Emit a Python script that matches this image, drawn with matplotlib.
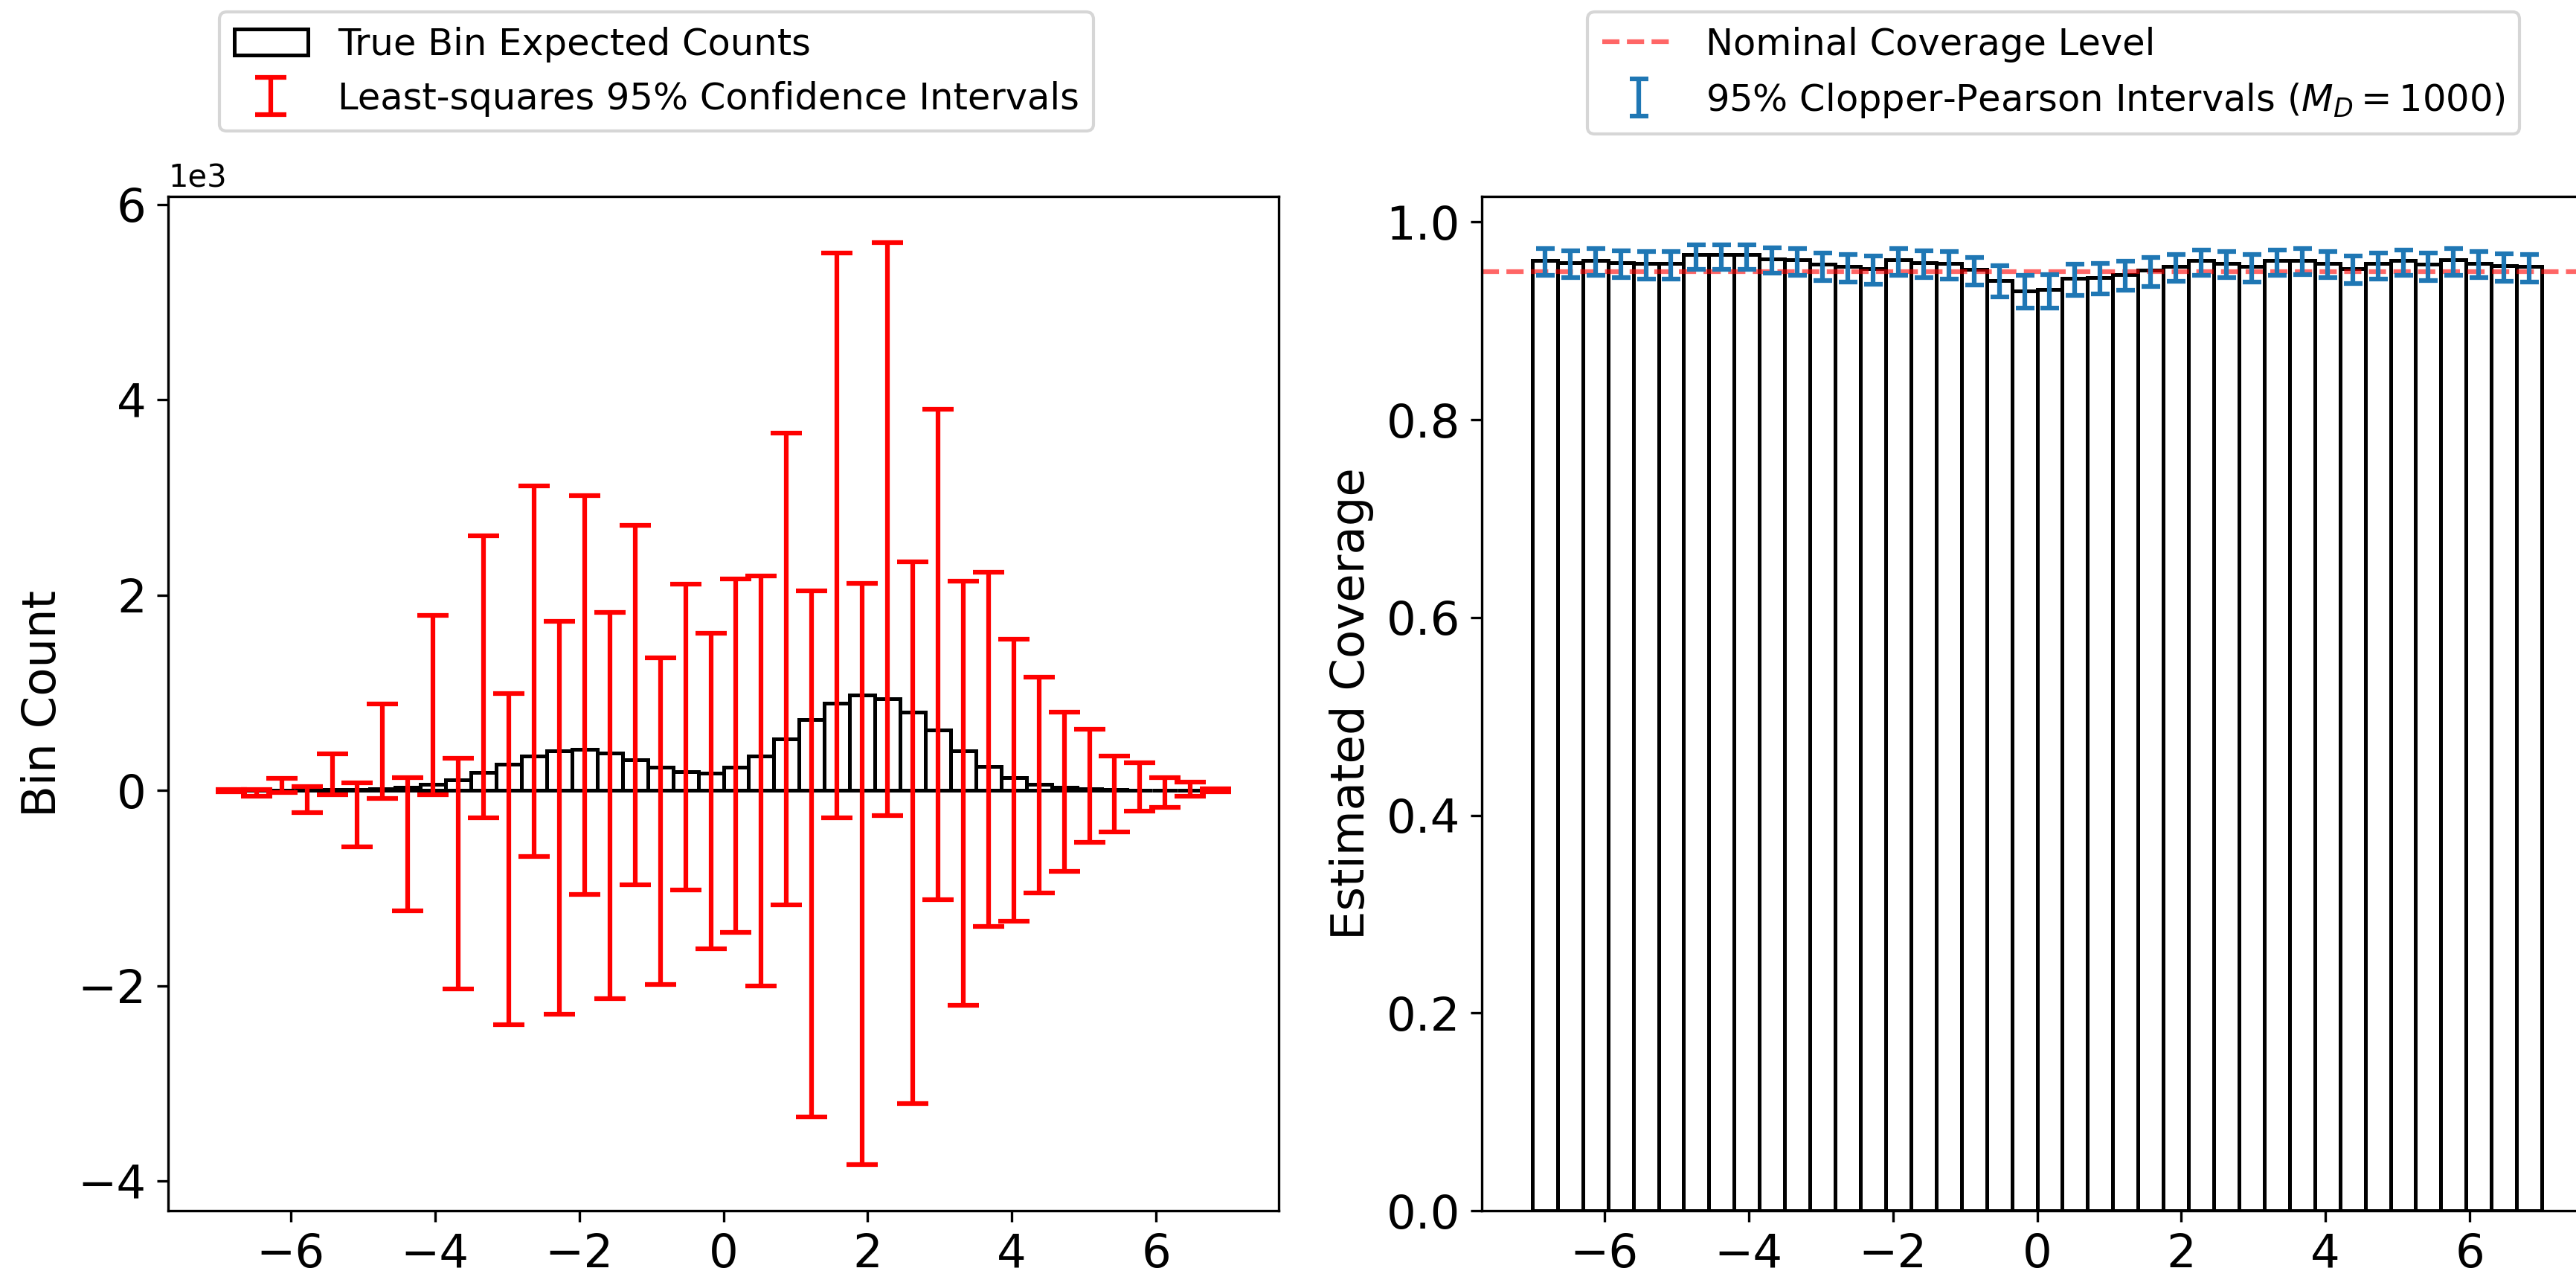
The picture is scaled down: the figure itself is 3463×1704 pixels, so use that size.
import numpy as np
import matplotlib
matplotlib.use("Agg")
import matplotlib.pyplot as plt
from matplotlib.ticker import MultipleLocator

# ---------------- data ----------------
bin_edges = np.linspace(-7, 7, 41)
bin_centers = 0.5 * (bin_edges[:-1] + bin_edges[1:])

true_counts = [1, 1, 2, 3, 5, 8, 15, 30, 63, 107,
               182, 264, 349, 406, 421, 382, 313, 240, 188, 178,
               236, 355, 528, 728, 893, 976, 941, 803, 615, 406,
               245, 130, 65, 28, 13, 6, 3, 1, 1, 0]

ci_low = [-12, -58, -20, -226, -47, -580, -82, -1231, -47, -2037,
          -284, -2399, -674, -2294, -1067, -2130, -970, -1990, -1017, -1620,
          -1453, -2006, -1172, -3346, -284, -3833, -261, -3209, -1122, -2205,
          -1394, -1344, -1048, -830, -530, -428, -214, -171, -62, -16]
ci_high = [12, 9, 126, 35, 374, 78, 887, 130, 1790, 328,
           2610, 991, 3114, 1728, 3022, 1825, 2711, 1360, 2114, 1605,
           2167, 2193, 3662, 2044, 5504, 2118, 5610, 2338, 3904, 2145,
           2232, 1544, 1162, 798, 623, 352, 282, 130, 82, 18]

coverage = [0.961, 0.959, 0.961, 0.959, 0.958, 0.958, 0.967, 0.967, 0.967, 0.963,
            0.962, 0.957, 0.955, 0.953, 0.962, 0.959, 0.958, 0.952, 0.941, 0.930,
            0.932, 0.943, 0.944, 0.947, 0.951, 0.955, 0.961, 0.958, 0.955, 0.961,
            0.961, 0.958, 0.953, 0.958, 0.961, 0.957, 0.962, 0.958, 0.956, 0.955]
cp_low = [0.946, 0.944, 0.946, 0.944, 0.942, 0.942, 0.952, 0.952, 0.952, 0.948,
          0.946, 0.941, 0.939, 0.937, 0.946, 0.944, 0.942, 0.936, 0.924, 0.913,
          0.913, 0.926, 0.927, 0.931, 0.935, 0.940, 0.946, 0.944, 0.939, 0.946,
          0.947, 0.944, 0.938, 0.942, 0.946, 0.941, 0.946, 0.944, 0.940, 0.939]
cp_high = [0.973, 0.971, 0.973, 0.971, 0.970, 0.970, 0.977, 0.977, 0.977, 0.974,
           0.973, 0.969, 0.967, 0.966, 0.973, 0.971, 0.970, 0.964, 0.956, 0.946,
           0.947, 0.957, 0.958, 0.960, 0.964, 0.967, 0.972, 0.970, 0.967, 0.972,
           0.973, 0.970, 0.966, 0.969, 0.972, 0.969, 0.973, 0.970, 0.968, 0.967]

nominal_level = 0.95

# ---------------- figure ----------------
W, H = 3463, 1704
dpi = 300
fig = plt.figure(figsize=(W / dpi, H / dpi), dpi=dpi)

ax_l = fig.add_axes([226 / W, 1 - 1627 / H, 1493 / W, 1363 / H])
ax_r = fig.add_axes([1992 / W, 1 - 1627 / H, 1493 / W, 1363 / H])

width = bin_edges[1] - bin_edges[0]
true_counts = np.array(true_counts, dtype=float)
ci_low = np.array(ci_low, dtype=float)
ci_high = np.array(ci_high, dtype=float)
est = 0.5 * (ci_low + ci_high)

ax_l.bar(bin_centers, true_counts, width=width, fill=False,
         edgecolor='black', linewidth=1.2,
         label='True Bin Expected Counts')
ax_l.errorbar(bin_centers, est, yerr=[est - ci_low, ci_high - est],
              fmt='none', ecolor='red', elinewidth=1.5, capsize=5,
              capthick=1.5,
              label='Least-squares 95% Confidence Intervals')
ax_l.ticklabel_format(axis='y', style='sci', scilimits=(0, 0))
ax_l.set_ylabel('Bin Count', fontsize=15)
ax_l.tick_params(axis='both', labelsize=15)
ax_l.xaxis.set_major_locator(MultipleLocator(2))
ax_l.legend(loc='upper left', bbox_to_anchor=(295 / W, 1 - 16 / H),
            bbox_transform=fig.transFigure, borderaxespad=0, fontsize=11.9)

coverage = np.array(coverage)
cp_low = np.array(cp_low)
cp_high = np.array(cp_high)
ax_r.bar(bin_centers, coverage, width=width, fill=False,
         edgecolor='black', linewidth=1.2)
ax_r.axhline(nominal_level, color='red', alpha=0.6, linestyle='--',
             linewidth=1.5, label='Nominal Coverage Level')
ax_r.errorbar(bin_centers, coverage,
              yerr=[coverage - cp_low, cp_high - coverage],
              fmt='none', ecolor='#1f77b4', elinewidth=1.5, capsize=3,
              capthick=1.5,
              label=r'95% Clopper-Pearson Intervals ($M_D = 1000$)')
ax_r.set_ylabel('Estimated Coverage', fontsize=15)
ax_r.tick_params(axis='both', labelsize=15)
ax_r.xaxis.set_major_locator(MultipleLocator(2))
ax_r.legend(loc='upper left', bbox_to_anchor=(2134 / W, 1 - 16 / H),
            bbox_transform=fig.transFigure, borderaxespad=0, fontsize=11.9)

fig.savefig('out.png', dpi=dpi)
